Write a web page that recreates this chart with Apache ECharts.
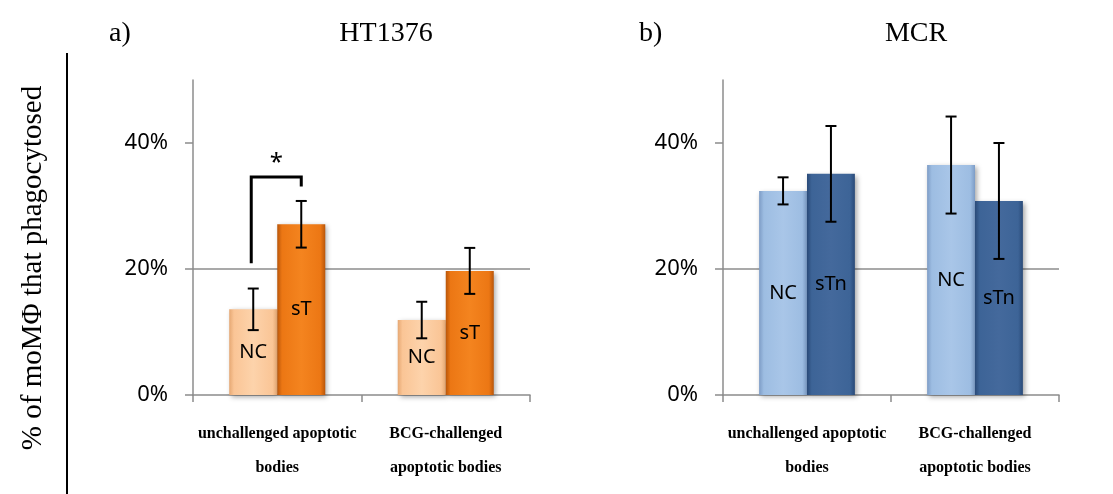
<!DOCTYPE html>
<html>
<head>
<meta charset="utf-8">
<script src="https://cdn.jsdelivr.net/npm/echarts@6/dist/echarts.min.js"></script>
<style>html,body{margin:0;padding:0;background:#fff}#c{width:1113px;height:494px}</style>
</head>
<body>
<div id="c"></div>
<script>
// ---- data ----
var categories = ['unchallenged apoptotic\nbodies', 'BCG-challenged\napoptotic bodies'];
var yTicks = [0, 20, 40];
var ht1376NC = [13.6, 11.9];
var ht1376NCErr = [3.3, 2.9];
var ht1376sT = [27.1, 19.7];
var ht1376sTErr = [3.7, 3.65];
var mcrNC = [32.4, 36.5];
var mcrNCErr = [2.15, 7.7];
var mcrsTn = [35.1, 30.8];
var mcrsTnErr = [7.6, 9.2];
// significance bracket: [category, leftY, topY, rightY]
var bracket = [[0, 20.9, 34.6, 33.1]];

var GAP = 0.43; // barCategoryGap fraction

function errData(means, errs, slot) {
  return means.map(function (m, i) { return [i, slot, m, errs[i]]; });
}
function errRender(params, api) {
  var cat = api.value(0), slot = api.value(1), m = api.value(2), e = api.value(3);
  var c = api.coord([cat, m]);
  var bandW = api.size([1, 0])[0];
  var barW = bandW * (1 - GAP) / 2;
  var x = c[0] + (slot - 0.5) * barW;
  var yt = api.coord([cat, m + e])[1];
  var yb = api.coord([cat, m - e])[1];
  var cap = 5.5;
  var st = { stroke: '#000', lineWidth: 2 };
  return { type: 'group', children: [
    { type: 'line', shape: { x1: x, y1: yt, x2: x, y2: yb }, style: st },
    { type: 'line', shape: { x1: x - cap, y1: yt, x2: x + cap, y2: yt }, style: st },
    { type: 'line', shape: { x1: x - cap, y1: yb, x2: x + cap, y2: yb }, style: st }
  ]};
}
function bracketRender(params, api) {
  var cat = api.value(0), yl = api.value(1), yt = api.value(2), yr = api.value(3);
  var c = api.coord([cat, yt]);
  var bandW = api.size([1, 0])[0];
  var barW = bandW * (1 - GAP) / 2;
  var xl = c[0] - 0.5 * barW - 2, xr = c[0] + 0.5 * barW;
  var pl = api.coord([cat, yl])[1], pt = c[1], pr = api.coord([cat, yr])[1];
  return { type: 'group', children: [
    { type: 'polyline', shape: { points: [[xl, pl], [xl, pt], [xr, pt], [xr, pr]] },
      style: { stroke: '#000', lineWidth: 3, fill: null } },
    { type: 'text', style: { x: (xl + xr) / 2, y: pt - 2, text: '*', fill: '#000',
      font: '24px "Noto Sans"', align: 'center', verticalAlign: 'bottom' } }
  ]};
}

function grad(edge, main, light) {
  return { type: 'linear', x: 0, y: 0, x2: 1, y2: 0, colorStops: [
    { offset: 0, color: edge }, { offset: 0.1, color: main },
    { offset: 0.5, color: light }, { offset: 0.9, color: main }, { offset: 1, color: edge }
  ]};
}
var shadow = { shadowBlur: 5, shadowColor: 'rgba(0,0,0,0.35)', shadowOffsetX: 2, shadowOffsetY: 2 };
function barStyle(edge, main, light) {
  return Object.assign({ color: grad(edge, main, light) }, shadow);
}
var barLabel = { show: true, position: 'inside', formatter: '{a}', color: '#000',
  fontFamily: 'Noto Sans', fontSize: 20 };

function xAx(idx) {
  return { type: 'category', gridIndex: idx, data: categories,
    axisLine: { lineStyle: { color: '#8c8c8c', width: 1.5 } },
    axisTick: { show: true, length: 7, lineStyle: { color: '#8c8c8c', width: 1.5 } },
    axisLabel: { interval: 0, fontFamily: 'Liberation Serif', fontWeight: 'bold', fontSize: 16,
      color: '#000', lineHeight: 34, margin: 22 } };
}
function yAx(idx) {
  return { type: 'value', gridIndex: idx, min: 0, max: 50, interval: 20,
    axisLine: { show: true, lineStyle: { color: '#8c8c8c', width: 1.5 } },
    axisTick: { show: true, length: 8, customValues: yTicks, lineStyle: { color: '#8c8c8c', width: 1.5 } },
    axisLabel: { customValues: yTicks, formatter: '{value}%', fontFamily: 'Noto Sans', fontSize: 22,
      color: '#000', margin: 25 },
    splitLine: { show: true, showMinLine: false, showMaxLine: false, lineStyle: { color: '#8c8c8c', width: 1.5 } } };
}

var chart = echarts.init(document.getElementById('c'));
var titleFont = { fontFamily: 'Liberation Serif', fontSize: 28, fontWeight: 'normal', color: '#000' };
chart.setOption({
  animation: false,
  title: [
    { text: 'a)', left: 104, top: 15, textStyle: titleFont },
    { text: 'HT1376', left: 381, top: 15, textAlign: 'center', textStyle: titleFont },
    { text: 'b)', left: 634, top: 15, textStyle: titleFont },
    { text: 'MCR', left: 911, top: 15, textAlign: 'center', textStyle: titleFont }
  ],
  graphic: [
    { type: 'text', x: 33, y: 268, rotation: Math.PI / 2,
      style: { text: '% of moM\u03A6 that phagocytosed', font: '29px "Liberation Serif"', fill: '#000',
        align: 'center', verticalAlign: 'middle' } },
    { type: 'line', shape: { x1: 67, y1: 53, x2: 67, y2: 494 }, style: { stroke: '#000', lineWidth: 2 } }
  ],
  grid: [
    { left: 193, top: 80, width: 337, height: 315 },
    { left: 723, top: 80, width: 336, height: 315 }
  ],
  xAxis: [xAx(0), xAx(1)],
  yAxis: [yAx(0), yAx(1)],
  series: [
    { type: 'bar', name: 'NC', xAxisIndex: 0, yAxisIndex: 0, data: ht1376NC, barGap: '0%', barCategoryGap: '43%',
      itemStyle: barStyle('#e6a873', '#fac596', '#fdd3ab'), label: barLabel },
    { type: 'bar', name: 'sT', xAxisIndex: 0, yAxisIndex: 0, data: ht1376sT, barGap: '0%', barCategoryGap: '43%',
      itemStyle: barStyle('#b9560a', '#ec7714', '#f4841f'), label: barLabel },
    { type: 'bar', name: 'NC', xAxisIndex: 1, yAxisIndex: 1, data: mcrNC, barGap: '0%', barCategoryGap: '43%',
      itemStyle: barStyle('#7d9cc6', '#9dbde2', '#a9c6e8'), label: barLabel },
    { type: 'bar', name: 'sTn', xAxisIndex: 1, yAxisIndex: 1, data: mcrsTn, barGap: '0%', barCategoryGap: '43%',
      itemStyle: barStyle('#2a4a78', '#3d6497', '#44699c'), label: barLabel },
    { type: 'custom', xAxisIndex: 0, yAxisIndex: 0, z: 10, renderItem: errRender,
      encode: { x: 0, y: 2 }, data: errData(ht1376NC, ht1376NCErr, 0).concat(errData(ht1376sT, ht1376sTErr, 1)) },
    { type: 'custom', xAxisIndex: 1, yAxisIndex: 1, z: 10, renderItem: errRender,
      encode: { x: 0, y: 2 }, data: errData(mcrNC, mcrNCErr, 0).concat(errData(mcrsTn, mcrsTnErr, 1)) },
    { type: 'custom', xAxisIndex: 0, yAxisIndex: 0, z: 10, renderItem: bracketRender,
      encode: { x: 0, y: 2 }, data: bracket }
  ]
});
</script>
</body>
</html>
